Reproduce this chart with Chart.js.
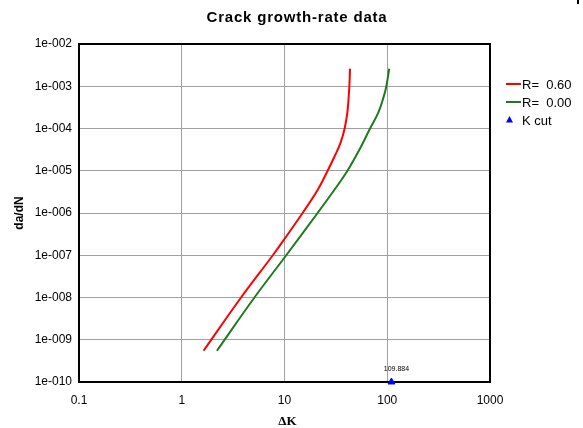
<!DOCTYPE html>
<html>
<head>
<meta charset="utf-8">
<style>
  html, body { margin: 0; padding: 0; background: #ffffff; }
  #wrap { width: 583px; height: 428px; position: relative; }
</style>
<script src="https://cdn.jsdelivr.net/npm/chart.js@4.4.1/dist/chart.umd.min.js"></script>
</head>
<body>
<div id="wrap"><canvas id="c" width="583" height="428"></canvas></div>
<script>
// Text
const chartTitle = 'Crack growth-rate data';
const xTitle = 'ΔK';
const yTitle = 'da/dN';

// Decade ticks
const xTickValues = [0.1, 1, 10, 100, 1000];
const xTickLabels = ['0.1', '1', '10', '100', '1000'];
const yTickValues = [1e-10, 1e-9, 1e-8, 1e-7, 1e-6, 1e-5, 1e-4, 1e-3, 1e-2];
const yTickLabels = ['1e-010', '1e-009', '1e-008', '1e-007', '1e-006', '1e-005', '1e-004', '1e-003', '1e-002'];

// Series: stress-intensity range vs growth rate
const seriesLabels = ['R=  0.60', 'R=  0.00'];
const r60DeltaK = [1.63, 3.78, 7.7, 10.2, 15.0, 21.0, 26.3, 31.0, 35.0, 38.5, 41.0, 42.4, 43.0, 43.4];
const r60Rate   = [5.5e-10, 1.0e-8, 1.0e-7, 2.6e-7, 1.0e-6, 3.5e-6, 1.0e-5, 2.3e-5, 4.5e-5, 1.0e-4, 2.5e-4, 7.0e-4, 1.3e-3, 2.6e-3];
const r00DeltaK = [2.2, 5.1, 10.4, 21.0, 30.5, 41.0, 55.5, 68.0, 82.0, 93.0, 98.0, 104.5];
const r00Rate   = [5.5e-10, 1.0e-8, 1.0e-7, 1.0e-6, 3.5e-6, 1.0e-5, 3.7e-5, 1.0e-4, 2.4e-4, 6.0e-4, 1.0e-3, 2.6e-3];

// Cut-off marker
const kCutLabel = 'K cut';
const kCutValue = 109.884;
const kCutRate = 1e-10;

const seriesColors = ['#ff0000', '#1f7a1f'];
const cutColor = '#0000ff';

function pairs(xs, ys) { return xs.map((x, i) => ({ x: x, y: ys[i] })); }

const decorations = {
  id: 'decorations',
  beforeDatasetsDraw(chart) {
    const ctx = chart.ctx, a = chart.chartArea;
    ctx.save();
    ctx.strokeStyle = '#000000';
    ctx.lineWidth = 2;
    ctx.strokeRect(a.left, a.top, a.right - a.left, a.bottom - a.top);
    ctx.restore();
  },
  afterDraw(chart) {
    const ctx = chart.ctx, a = chart.chartArea;
    const xs = chart.scales.x, ys = chart.scales.y;
    ctx.save();
    ctx.fillStyle = '#000000';
    ctx.textAlign = 'center';
    ctx.textBaseline = 'middle';

    // title
    ctx.font = 'bold 15px "Liberation Sans", Arial, sans-serif';
    ctx.letterSpacing = '0.8px';
    ctx.fillText(chartTitle, 297, 18);
    ctx.letterSpacing = '0px';

    // axis titles
    ctx.font = 'bold 13px "Liberation Serif", "Times New Roman", serif';
    ctx.fillText(xTitle, (a.left + a.right) / 2 + 3, 422);
    ctx.save();
    ctx.translate(20, (a.top + a.bottom) / 2);
    ctx.rotate(-Math.PI / 2);
    ctx.font = 'bold 12px "Liberation Sans", Arial, sans-serif';
    ctx.fillText(yTitle, 0, 0);
    ctx.restore();

    // cut-off value label
    ctx.font = '7px "Liberation Sans", Arial, sans-serif';
    ctx.fillStyle = '#000000';
    ctx.fillText(kCutValue.toFixed(3), xs.getPixelForValue(kCutValue) + 5, ys.getPixelForValue(kCutRate) - 13);

    // legend
    ctx.textAlign = 'left';
    ctx.font = '13px "Liberation Sans", Arial, sans-serif';
    const lx = 506, tx = 522;
    const rows = [84, 102, 120];
    chart.data.datasets.forEach((ds, i) => {
      const y = rows[i];
      if (ds.showLine) {
        ctx.strokeStyle = ds.borderColor;
        ctx.lineWidth = 2;
        ctx.beginPath();
        ctx.moveTo(lx, y);
        ctx.lineTo(lx + 15, y);
        ctx.stroke();
      } else {
        ctx.fillStyle = cutColor;
        ctx.beginPath();
        ctx.moveTo(lx + 3.5, y - 4);
        ctx.lineTo(lx + 7, y + 2.5);
        ctx.lineTo(lx, y + 2.5);
        ctx.closePath();
        ctx.fill();
      }
      ctx.fillStyle = '#000000';
      ctx.fillText(ds.label, tx, y + 1);
    });

    // small corner mark
    ctx.fillStyle = '#000000';
    ctx.fillRect(577, 0, 2, 4);
    ctx.restore();
  }
};

new Chart(document.getElementById('c'), {
  type: 'scatter',
  data: {
    datasets: [
      {
        label: seriesLabels[0],
        data: pairs(r60DeltaK, r60Rate),
        showLine: true,
        borderColor: seriesColors[0],
        backgroundColor: seriesColors[0],
        borderWidth: 2,
        pointRadius: 0,
        tension: 0.4
      },
      {
        label: seriesLabels[1],
        data: pairs(r00DeltaK, r00Rate),
        showLine: true,
        borderColor: seriesColors[1],
        backgroundColor: seriesColors[1],
        borderWidth: 2,
        pointRadius: 0,
        tension: 0.4
      },
      {
        label: kCutLabel,
        data: [{ x: kCutValue, y: kCutRate }],
        showLine: false,
        pointStyle: 'triangle',
        pointRadius: 4,
        borderWidth: 1,
        borderColor: cutColor,
        backgroundColor: cutColor,
        clip: false
      }
    ]
  },
  options: {
    responsive: false,
    animation: false,
    devicePixelRatio: 1,
    layout: { padding: { left: 0, top: 44, right: 93, bottom: 0 } },
    plugins: {
      legend: { display: false },
      title: { display: false },
      tooltip: { enabled: false }
    },
    scales: {
      x: {
        type: 'logarithmic',
        min: 0.1,
        max: 1000,
        afterBuildTicks(s) { s.ticks = xTickValues.map(v => ({ value: v })); },
        afterFit(s) { s.height = 46; },
        ticks: {
          autoSkip: false,
          maxRotation: 0,
          padding: 11,
          color: '#000000',
          font: { family: '"Liberation Sans", Arial, sans-serif', size: 12 },
          callback(v) { const i = xTickValues.indexOf(v); return i >= 0 ? xTickLabels[i] : ''; }
        },
        grid: { color: '#a0a0a0', lineWidth: 1, drawTicks: false },
        border: { display: false }
      },
      y: {
        type: 'logarithmic',
        min: 1e-10,
        max: 1e-2,
        afterBuildTicks(s) { s.ticks = yTickValues.map(v => ({ value: v })); },
        afterFit(s) { s.width = 79; },
        ticks: {
          autoSkip: false,
          padding: 7,
          color: '#000000',
          font: { family: '"Liberation Sans", Arial, sans-serif', size: 12 },
          callback(v) {
            const i = yTickValues.findIndex(t => Math.abs(Math.log10(t) - Math.log10(v)) < 1e-6);
            return i >= 0 ? yTickLabels[i] : '';
          }
        },
        grid: { color: '#a0a0a0', lineWidth: 1, drawTicks: false },
        border: { display: false }
      }
    }
  },
  plugins: [decorations]
});
</script>
</body>
</html>
